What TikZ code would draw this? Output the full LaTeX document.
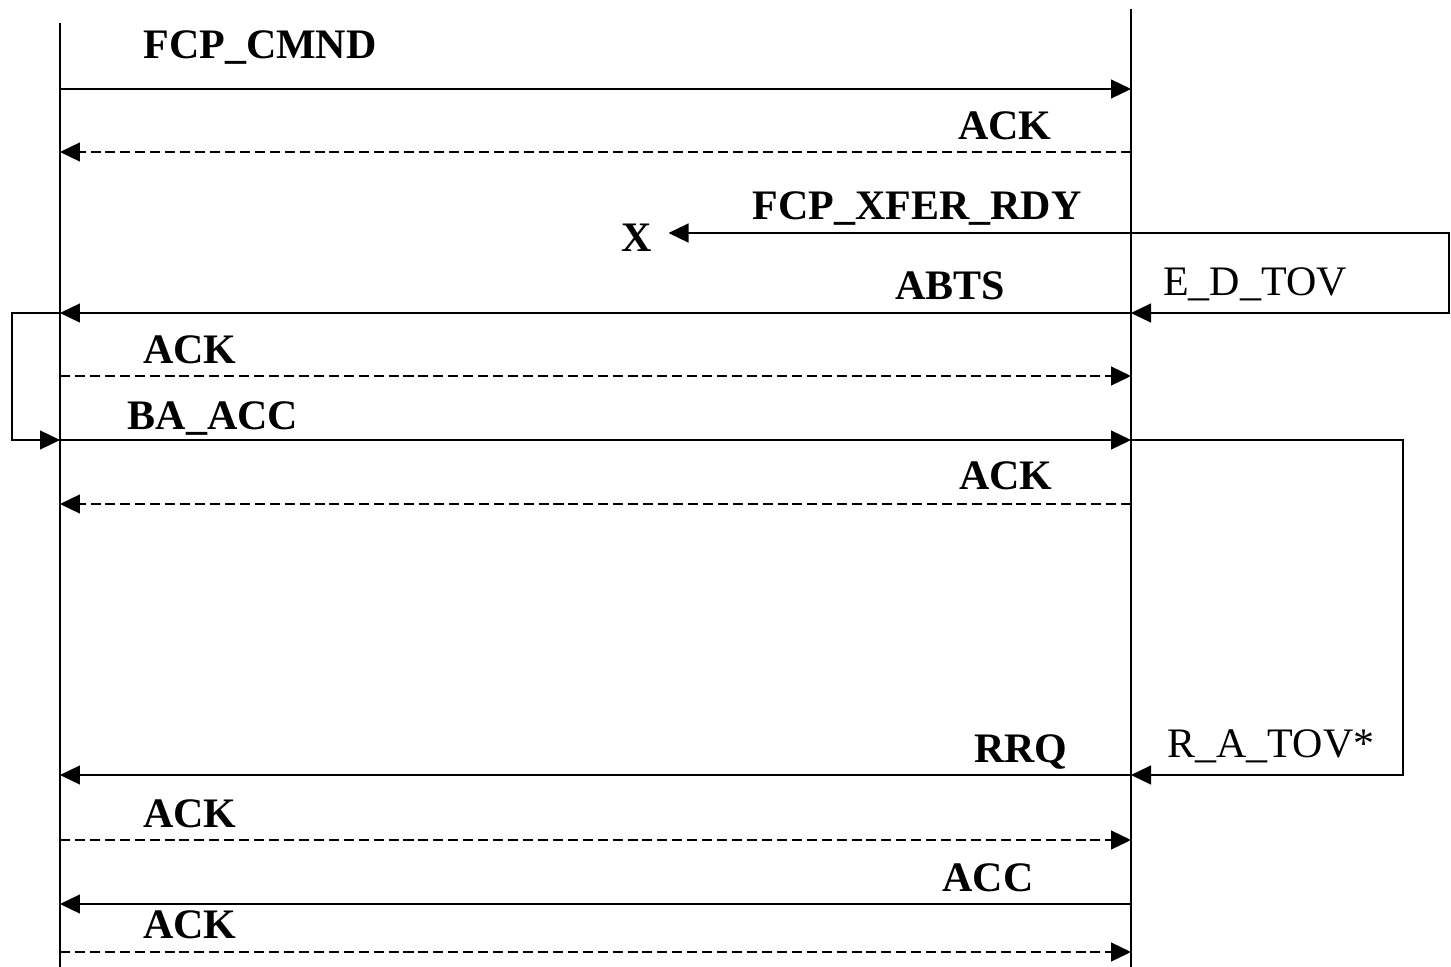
\documentclass[tikz,border=0pt]{standalone}
\usepackage{fontspec}
\setmainfont{Liberation Serif}
\usetikzlibrary{arrows.meta}
\newcommand{\msgsize}{\fontsize{23.9}{28}\selectfont}
\tikzset{
  life/.style={draw=black, line width=0.7pt},
  msg/.style={-{Triangle[length=0.4cm, width=0.38cm]}, line width=0.7pt},
  msgd/.style={msg, dash pattern=on 5.7pt off 2.8pt},
  lbl/.style={font=\msgsize\bfseries, anchor=base, inner sep=0pt},
  tlbl/.style={font=\msgsize, anchor=base, inner sep=0pt},
}

\begin{document}
\begin{tikzpicture}[x=0.02cm, y=-0.02cm]
\useasboundingbox (0,0) rectangle (1451,967);
% lifelines
\coordinate (ltop) at (60,23);
\coordinate (lbot) at (60,967);
\coordinate (rtop) at (1131,9);
\coordinate (rbot) at (1131,967);
\draw[life] (ltop) -- (lbot);
\draw[life] (rtop) -- (rbot);
% message levels
\foreach \n/\y in {cmnd/89, ack1/152, xfer/233, abts/313, ack2/376, baacc/440,
                   ack3/504, rrq/775, ack4/840, acc/904, ack5/952} {
  \coordinate (l-\n) at (60,\y);
  \coordinate (r-\n) at (1131,\y);
}
% timer corners
\coordinate (ed1) at (1449,233);
\coordinate (ed2) at (1449,313);
\coordinate (ra1) at (1403,440);
\coordinate (ra2) at (1403,775);
\coordinate (ab1) at (12,313);
\coordinate (ab2) at (12,440);

\node[lbl] (t-cmnd) at (260,58) {FCP\_CMND};
\node[lbl] (t-ack1) at (1005,139) {ACK};
\node[lbl] (t-xfer) at (917,219) {FCP\_XFER\_RDY};
\node[lbl, inner xsep=0.32cm] (drop) at (637,251) {X};
\node[lbl] (t-abts) at (950,299) {ABTS};
\node[tlbl] (t-edtov) at (1255,295) {E\_D\_TOV};
\node[lbl] (t-ack2) at (190,363) {ACK};
\node[lbl] (t-baacc) at (213,429) {BA\_ACC};
\node[lbl] (t-ack3) at (1006,489) {ACK};
\node[lbl] (t-rrq) at (1021,762) {RRQ};
\node[tlbl] (t-ratov) at (1271,757) {R\_A\_TOV*};
\node[lbl] (t-ack4) at (190,827) {ACK};
\node[lbl] (t-acc) at (988,891) {ACC};
\node[lbl] (t-ack5) at (190,938) {ACK};

\draw[msg] (l-cmnd) -- (r-cmnd);
\draw[msgd] (r-ack1) -- (l-ack1);
\draw[msg] (r-xfer) -- (drop.east |- r-xfer);
\draw[msg] (r-xfer) -- (ed1) -- (ed2) -- (r-abts);
\draw[msg] (r-abts) -- (l-abts);
\draw[msg] (l-abts) -- (ab1) -- (ab2) -- (l-baacc);
\draw[msgd] (l-ack2) -- (r-ack2);
\draw[msg] (l-baacc) -- (r-baacc);
\draw[msg] (r-baacc) -- (ra1) -- (ra2) -- (r-rrq);
\draw[msgd] (r-ack3) -- (l-ack3);
\draw[msg] (r-rrq) -- (l-rrq);
\draw[msgd] (l-ack4) -- (r-ack4);
\draw[msg] (r-acc) -- (l-acc);
\draw[msgd] (l-ack5) -- (r-ack5);
\end{tikzpicture}
\end{document}
